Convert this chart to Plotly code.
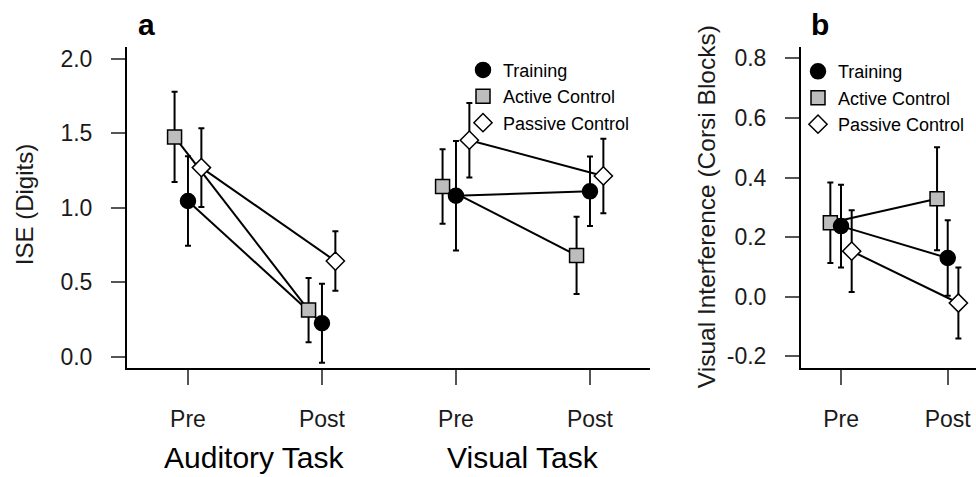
import plotly.graph_objects as go

# ---------------- data ----------------
groups = ["Training", "Active Control", "Passive Control"]
conditions_a = ["Pre", "Post", "Pre", "Post"]          # Auditory Pre/Post, Visual Pre/Post
tasks_a = ["Auditory Task", "Visual Task"]

training_a = [1.045, 0.225, 1.08, 1.11]
training_a_se = [0.30, 0.265, 0.367, 0.233]
active_a = [1.475, 0.313, 1.142, 0.68]
active_a_se = [0.302, 0.215, 0.25, 0.259]
passive_a = [1.269, 0.642, 1.453, 1.213]
passive_a_se = [0.264, 0.20, 0.25, 0.25]

conditions_b = ["Pre", "Post"]
training_b = [0.237, 0.13]
training_b_se = [0.139, 0.127]
active_b = [0.248, 0.329]
active_b_se = [0.135, 0.173]
passive_b = [0.153, -0.021]
passive_b_se = [0.137, 0.119]

ytick_a = [0.0, 0.5, 1.0, 1.5, 2.0]
ytick_b = [-0.2, 0.0, 0.2, 0.4, 0.6, 0.8]

# ---------------- style ----------------
FONT = "Liberation Sans, Arial, sans-serif"
W, H = 976, 477
styles = {
    "Training": dict(symbol="circle", size=15, color="black", offset=0.0),
    "Active Control": dict(symbol="square", size=14, color="#bdbdbd", offset=-0.1),
    "Passive Control": dict(symbol="diamond", size=14, color="white", offset=0.1),
}

def px_x(p):
    return p / W

def px_y(p):
    return 1 - p / H

fig = go.Figure()

def add_series(name, vals, ses, xref, yref, pairs):
    st = styles[name]
    xs, ys, es = [], [], []
    for k, (i, j) in enumerate(pairs):
        if k > 0:
            xs.append(None); ys.append(None); es.append(None)
        for idx in (i, j):
            xs.append(idx + 1 + st["offset"])
            ys.append(vals[idx])
            es.append(ses[idx])
    # connecting lines
    fig.add_trace(go.Scatter(x=xs, y=ys, mode="lines", xaxis=xref, yaxis=yref,
                             line=dict(color="black", width=2), showlegend=False,
                             hoverinfo="skip"))
    return xs, ys, es

def add_markers(name, xs, ys, es, xref, yref):
    st = styles[name]
    fig.add_trace(go.Scatter(
        x=xs, y=ys, mode="markers", xaxis=xref, yaxis=yref, showlegend=False,
        error_y=dict(type="data", array=es, symmetric=True, color="black",
                     thickness=2, width=3),
        marker=dict(symbol=st["symbol"], size=st["size"], color=st["color"],
                    line=dict(color="black", width=1.5)),
        name=name))

series_a = {"Training": (training_a, training_a_se),
            "Active Control": (active_a, active_a_se),
            "Passive Control": (passive_a, passive_a_se)}
series_b = {"Training": (training_b, training_b_se),
            "Active Control": (active_b, active_b_se),
            "Passive Control": (passive_b, passive_b_se)}

pts = {}
for g in groups:
    v, s = series_a[g]
    pts[("a", g)] = add_series(g, v, s, "x", "y", [(0, 1), (2, 3)])
    v, s = series_b[g]
    pts[("b", g)] = add_series(g, v, s, "x2", "y2", [(0, 1)])
for g in ["Active Control", "Training", "Passive Control"]:
    add_markers(g, *pts[("a", g)], "x", "y")
    add_markers(g, *pts[("b", g)], "x2", "y2")

# legend-only traces
for lg in ["legend", "legend2"]:
    for g in groups:
        st = styles[g]
        fig.add_trace(go.Scatter(
            x=[None], y=[None], mode="markers", name=g, legend=lg,
            xaxis="x" if lg == "legend" else "x2", yaxis="y" if lg == "legend" else "y2",
            marker=dict(symbol=st["symbol"], size=st["size"], color=st["color"],
                        line=dict(color="black", width=1.5))))

axis_common = dict(showgrid=False, zeroline=False, showline=True, linecolor="black",
                   linewidth=2, ticks="outside", tickcolor="#555555", tickwidth=1.5,
                   tickfont=dict(family=FONT, size=23, color="#1a1a1a"))

ydom = [px_y(369.3), px_y(46)]
fig.update_layout(
    width=W, height=H, margin=dict(l=0, r=0, t=0, b=0),
    paper_bgcolor="white", plot_bgcolor="white",
    font=dict(family=FONT, color="black"),
    xaxis=dict(domain=[px_x(127), px_x(650)], range=[0.545, 4.448],
               tickvals=[1, 2, 3, 4], ticktext=conditions_a, ticklen=15,
               ticklabelstandoff=14, anchor="y", **axis_common),
    yaxis=dict(domain=ydom, range=[-0.0753, 2.08], tickvals=ytick_a,
               ticktext=[f"{t:.1f}" for t in ytick_a], ticklen=14,
               ticklabelstandoff=14, anchor="x", **axis_common),
    xaxis2=dict(domain=[px_x(801), 1.0], range=[0.625, 2.265],
                tickvals=[1, 2], ticktext=conditions_b, ticklen=15,
                ticklabelstandoff=14, anchor="y2", **axis_common),
    yaxis2=dict(domain=ydom, range=[-0.239, 0.839], tickvals=ytick_b,
                ticktext=[f"{t:.1f}" for t in ytick_b], ticklen=14,
                ticklabelstandoff=14, anchor="x2", **axis_common),
    legend=dict(x=px_x(463), y=px_y(51), xanchor="left", yanchor="top",
                font=dict(family=FONT, size=18, color="black"),
                bgcolor="rgba(0,0,0,0)", itemwidth=30, tracegroupgap=0),
    legend2=dict(x=px_x(798), y=px_y(52.5), xanchor="left", yanchor="top",
                 font=dict(family=FONT, size=18, color="black"),
                 bgcolor="rgba(0,0,0,0)", itemwidth=30, tracegroupgap=0),
    showlegend=True,
)

ann = [
    dict(text=tasks_a[0], x=1.5, xref="x", y=px_y(459), yref="paper",
         font=dict(size=30, family=FONT, color="black"), showarrow=False,
         xanchor="center", yanchor="middle"),
    dict(text=tasks_a[1], x=3.5, xref="x", y=px_y(459), yref="paper",
         font=dict(size=30, family=FONT, color="black"), showarrow=False,
         xanchor="center", yanchor="middle"),
    dict(text="ISE (Digits)", x=px_x(24), y=px_y(205.5), xref="paper", yref="paper",
         textangle=-90, font=dict(size=24, family=FONT, color="#1a1a1a"),
         showarrow=False, xanchor="center", yanchor="middle"),
    dict(text="Visual Interference (Corsi Blocks)", x=px_x(706), y=px_y(207.5),
         xref="paper", yref="paper", textangle=-90,
         font=dict(size=24.5, family=FONT, color="#1a1a1a"),
         showarrow=False, xanchor="center", yanchor="middle"),
    dict(text="<b>a</b>", x=px_x(146.5), y=px_y(24), xref="paper", yref="paper",
         font=dict(size=30, family=FONT, color="black"), showarrow=False,
         xanchor="center", yanchor="middle"),
    dict(text="<b>b</b>", x=px_x(820), y=px_y(24), xref="paper", yref="paper",
         font=dict(size=30, family=FONT, color="black"), showarrow=False,
         xanchor="center", yanchor="middle"),
]
fig.update_layout(annotations=ann)

fig.write_html("out.html")
